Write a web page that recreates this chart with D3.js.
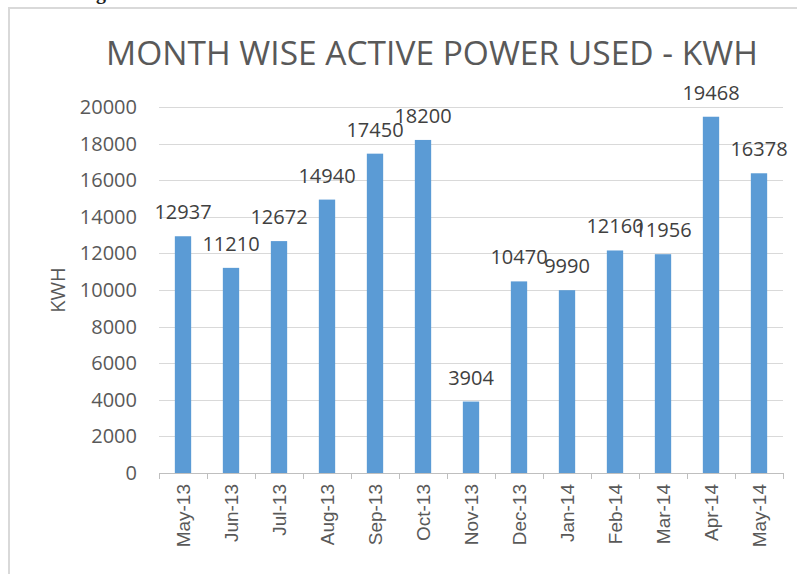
<!DOCTYPE html>
<html>
<head>
<meta charset="utf-8">
<script src="https://cdn.jsdelivr.net/npm/d3@7"></script>
<style>
  body { margin: 0; background: #fff; }
  svg { display: block; }
</style>
</head>
<body>
<svg id="chart"></svg>
<script>
// chart data
var months = ["May-13", "Jun-13", "Jul-13", "Aug-13", "Sep-13", "Oct-13", "Nov-13",
              "Dec-13", "Jan-14", "Feb-14", "Mar-14", "Apr-14", "May-14"];
var kwh = [12937, 11210, 12672, 14940, 17450, 18200, 3904,
           10470, 9990, 12160, 11956, 19468, 16378];
var yTicks = [0, 2000, 4000, 6000, 8000, 10000, 12000, 14000, 16000, 18000, 20000];
var chartTitle = "MONTH WISE ACTIVE POWER USED - KWH";
var yTitle = "KWH";

var width = 797,
    height = 574;

var plot = {left: 159, right: 783, top: 107, bottom: 473};

var svg = d3.select("#chart")
    .attr("width", width)
    .attr("height", height);

// cropped letter from the page above the chart
svg.append("text")
    .attr("x", 96)
    .attr("y", -1)
    .style("font-family", "Liberation Serif")
    .style("font-weight", "bold")
    .style("font-size", "20px")
    .attr("fill", "#222")
    .text("g");

// chart area border
svg.append("rect")
    .attr("x", 9)
    .attr("y", 8)
    .attr("width", 820)
    .attr("height", 620)
    .attr("fill", "#fff")
    .attr("stroke", "#d9d9d9")
    .attr("stroke-width", 2);

var x = d3.scaleBand()
    .domain(months)
    .range([plot.left, plot.right])
    .paddingInner(0.66)
    .paddingOuter(0.33);

var y = d3.scaleLinear()
    .domain([0, 20000])
    .range([plot.bottom, plot.top]);

// title
svg.append("text")
    .attr("x", 432)
    .attr("y", 65)
    .attr("text-anchor", "middle")
    .style("font-family", "Open Sans")
    .style("font-size", "33.5px")
    .attr("fill", "#595959")
    .text(chartTitle);

// gridlines
svg.append("g")
    .selectAll("line")
    .data(yTicks.filter(function (d) { return d > 0; }))
    .enter().append("line")
    .attr("x1", plot.left)
    .attr("x2", plot.right)
    .attr("y1", function (d) { return Math.round(y(d)) + 0.5; })
    .attr("y2", function (d) { return Math.round(y(d)) + 0.5; })
    .attr("stroke", "#d9d9d9")
    .attr("stroke-width", 1);

// y axis labels
var yAxis = d3.axisLeft(y)
    .tickValues(yTicks)
    .tickFormat(d3.format("d"))
    .tickSize(0)
    .tickPadding(22);

var yg = svg.append("g")
    .attr("transform", "translate(" + plot.left + ",0)")
    .call(yAxis);
yg.select(".domain").remove();
yg.selectAll("text")
    .style("font-family", "Open Sans")
    .style("font-size", "20px")
    .attr("fill", "#595959");

// y axis title
svg.append("text")
    .attr("transform", "translate(65," + ((plot.top + plot.bottom) / 2) + ") rotate(-90)")
    .attr("text-anchor", "middle")
    .style("font-family", "Open Sans")
    .style("font-size", "20px")
    .attr("fill", "#595959")
    .text(yTitle);

// bars
svg.append("g")
    .selectAll("rect")
    .data(kwh)
    .enter().append("rect")
    .attr("x", function (d, i) { return x(months[i]); })
    .attr("y", function (d) { return y(d); })
    .attr("width", x.bandwidth())
    .attr("height", function (d) { return plot.bottom - y(d); })
    .attr("fill", "#5b9bd5");

// x axis line and category tick marks
var step = x.step();
var xg = svg.append("g");
xg.append("line")
    .attr("x1", plot.left)
    .attr("x2", plot.right)
    .attr("y1", plot.bottom + 0.5)
    .attr("y2", plot.bottom + 0.5)
    .attr("stroke", "#bfbfbf");
xg.selectAll(".tick")
    .data(d3.range(months.length + 1))
    .enter().append("line")
    .attr("class", "tick")
    .attr("x1", function (i) { return Math.round(plot.left + i * step) + 0.5; })
    .attr("x2", function (i) { return Math.round(plot.left + i * step) + 0.5; })
    .attr("y1", plot.bottom)
    .attr("y2", plot.bottom + 6)
    .attr("stroke", "#bfbfbf");

// x labels
xg.selectAll(".xlabel")
    .data(months)
    .enter().append("text")
    .attr("class", "xlabel")
    .attr("transform", function (d) {
        return "translate(" + (x(d) + x.bandwidth() / 2 + 7) + "," + (plot.bottom + 11) + ") rotate(-90)";
    })
    .attr("text-anchor", "end")
    .style("font-family", "Liberation Sans")
    .style("font-size", "19px")
    .attr("fill", "#595959")
    .text(function (d) { return d; });

// data labels
svg.append("g")
    .selectAll("text")
    .data(kwh)
    .enter().append("text")
    .attr("x", function (d, i) { return x(months[i]) + x.bandwidth() / 2; })
    .attr("y", function (d) { return y(d) - 17; })
    .attr("text-anchor", "middle")
    .style("font-family", "Open Sans")
    .style("font-size", "20px")
    .attr("fill", "#404040")
    .text(function (d) { return d; });
</script>
</body>
</html>
